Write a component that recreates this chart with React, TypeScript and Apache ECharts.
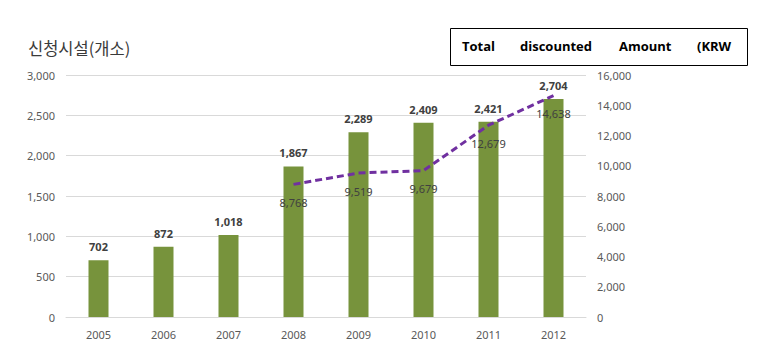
import React, { useEffect, useRef } from "react";
import * as echarts from "echarts";

const years = ["2005", "2006", "2007", "2008", "2009", "2010", "2011", "2012"];
const facilities = [702, 872, 1018, 1867, 2289, 2409, 2421, 2704];
const discounted = [null, null, null, 8768, 9519, 9679, 12679, 14638];
const titleText = "신청시설(개소)";
const boxWords = ["Total", "discounted", "Amount", "(KRW"];
const boxWordX = [462, 520, 619, 697];

const fmt = (v: number) => v.toLocaleString("en-US");

export default function App() {
  const ref = useRef<HTMLDivElement>(null);
  useEffect(() => {
    const chart = echarts.init(ref.current!, null, { renderer: "svg" });
    const font = "'Noto Sans', 'Open Sans', sans-serif";
    chart.setOption({
      animation: false,
      backgroundColor: "#ffffff",
      textStyle: { fontFamily: font },
      grid: { left: 66, right: 176, top: 75, bottom: 41 },
      graphic: [
        {
          type: "text",
          left: 28,
          top: 40,
          style: {
            text: titleText,
            font: "16.5px 'Noto Sans CJK KR', sans-serif",
            fill: "#3a3a3a",
          },
        },
        {
          type: "rect",
          shape: { x: 450.5, y: 28.5, width: 297, height: 37 },
          style: { fill: "#ffffff", stroke: "#000000", lineWidth: 1 },
        },
        ...boxWords.map((w, i) => ({
          type: "text",
          x: boxWordX[i],
          y: 46,
          style: {
            text: w,
            font: "bold 13px 'Open Sans', 'Noto Sans', sans-serif",
            fill: "#000000",
            textVerticalAlign: "middle",
          },
        })),
      ],
      xAxis: {
        type: "category",
        data: years,
        axisLine: { lineStyle: { color: "#D9D9D9" } },
        axisTick: { show: false },
        axisLabel: { color: "#595959", fontSize: 11, margin: 12 },
      },
      yAxis: [
        {
          type: "value",
          min: 0,
          max: 3000,
          interval: 500,
          axisLine: { show: false },
          axisTick: { show: false },
          axisLabel: { color: "#595959", fontSize: 11, margin: 11, formatter: (v: number) => fmt(v) },
          splitLine: { lineStyle: { color: "#D9D9D9" } },
        },
        {
          type: "value",
          min: 0,
          max: 16000,
          interval: 2000,
          position: "right",
          axisLine: { show: false },
          axisTick: { show: false },
          axisLabel: { color: "#595959", fontSize: 11, margin: 11, formatter: (v: number) => fmt(v) },
          splitLine: { show: false },
        },
      ],
      series: [
        {
          type: "bar",
          data: facilities,
          barWidth: 20,
          itemStyle: { color: "#77933C" },
          label: {
            show: true,
            position: "top",
            distance: 8,
            color: "#404040",
            fontSize: 11,
            fontWeight: "bold",
            formatter: (p: any) => fmt(p.value),
          },
        },
        {
          type: "line",
          yAxisIndex: 1,
          data: discounted,
          showSymbol: true,
          symbol: "circle",
          symbolSize: 1,
          itemStyle: { color: "rgba(112,48,160,0)" },
          lineStyle: { color: "#7030A0", width: 3, type: [7, 4] },
          z: 5,
          label: {
            show: true,
            position: "bottom",
            distance: 12,
            color: "#404040",
            fontSize: 11,
            formatter: (p: any) => fmt(p.value),
          },
        },
      ],
    });
    return () => chart.dispose();
  }, []);
  return <div ref={ref} style={{ width: 762, height: 358, position: "absolute", left: 0, top: 0 }} />;
}
